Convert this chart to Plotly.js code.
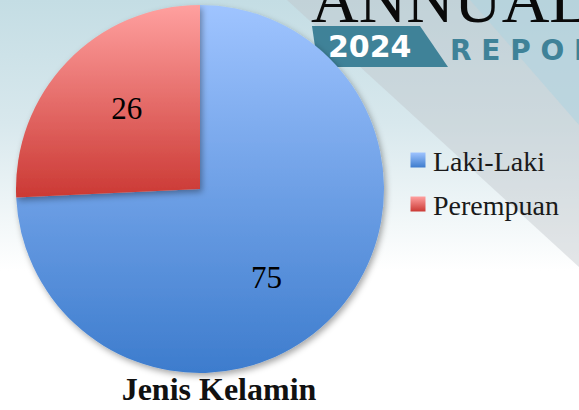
<!DOCTYPE html>
<html>
<head>
<meta charset="utf-8">
<script src="https://cdn.plot.ly/plotly-3.0.1.min.js"></script>
<style>
html,body{margin:0;padding:0;background:#fff;}
#chart{width:579px;height:410px;background:linear-gradient(180deg,#c4dde4 0%,#d8e8ed 30%,#f3f8f9 55%,#ffffff 66%,#ffffff 100%);}
</style>
</head>
<body>
<div id="chart"></div>
<script>
const categories = ["Laki-Laki", "Perempuan"];
const values = [75, 26];
const colors = ["#6b9be4", "#df6663"];
const chartTitle = "Jenis Kelamin";

const W = 579, H = 410;
const SERIF = "Liberation Serif, DejaVu Serif, serif";
const px = (x) => x / W, py = (y) => 1 - y / H;

const trace = {
  type: "pie",
  labels: categories,
  values: values,
  sort: false,
  direction: "clockwise",
  rotation: 0,
  textinfo: "value",
  textposition: "inside",
  insidetextorientation: "horizontal",
  textfont: {family: SERIF, size: 31, color: "#000"},
  marker: {colors: colors, line: {width: 0}},
  domain: {x: [px(16), px(384)], y: [py(373), py(5)]},
  hoverinfo: "none"
};

const layout = {
  width: W, height: H,
  margin: {l: 0, r: 0, t: 0, b: 0},
  paper_bgcolor: "rgba(0,0,0,0)",
  plot_bgcolor: "rgba(0,0,0,0)",
  showlegend: true,
  legend: {
    x: px(398), y: py(140), xanchor: "left", yanchor: "top",
    font: {family: SERIF, size: 28, color: "#1a1a1a"},
    itemwidth: 30,
    bgcolor: "rgba(0,0,0,0)"
  },
  title: {
    text: "<b>" + chartTitle + "</b>",
    x: px(219), xanchor: "center", xref: "paper",
    y: py(389), yanchor: "middle", yref: "paper",
    font: {family: SERIF, size: 32, color: "#111"}
  },
  shapes: [
    {type: "path", xref: "paper", yref: "paper", layer: "below",
     path: `M ${px(287)} 1 L 1 1 L 1 ${py(267)} Z`,
     fillcolor: "rgba(190,196,200,0.42)", line: {width: 0}},
    {type: "path", xref: "paper", yref: "paper", layer: "below",
     path: `M ${px(470)} 1 L 1 1 L 1 ${py(125)} Z`,
     fillcolor: "rgba(175,212,224,0.55)", line: {width: 0}},
    {type: "path", xref: "paper", yref: "paper", layer: "below",
     path: `M ${px(312)} ${py(26)} L ${px(420)} ${py(26)} L ${px(448)} ${py(67)} L ${px(318)} ${py(67)} Z`,
     fillcolor: "#3f8298", line: {width: 0}}
  ],
  annotations: [
    {text: "ANNUAL", xref: "paper", yref: "paper", x: px(309), y: py(38), xanchor: "left", yanchor: "bottom",
     showarrow: false, font: {family: SERIF, size: 66, color: "#0a0a0a"}},
    {text: "<b>2024</b>", xref: "paper", yref: "paper", x: px(370), y: py(47), xanchor: "center", yanchor: "middle",
     showarrow: false, font: {family: "DejaVu Sans, sans-serif", size: 30, color: "#ffffff"}},
    {text: "<b>R E P O R</b>", xref: "paper", yref: "paper", x: px(448), y: py(50), xanchor: "left", yanchor: "middle",
     showarrow: false, font: {family: "DejaVu Sans, sans-serif", size: 28, color: "#3f8298"}}
  ]
};

Plotly.newPlot("chart", [trace], layout, {displayModeBar: false, staticPlot: true}).then(gd => {
  const svg = gd.querySelector("svg.main-svg");
  const ns = "http://www.w3.org/2000/svg";
  let defs = svg.querySelector("defs");
  if (!defs) { defs = document.createElementNS(ns, "defs"); svg.insertBefore(defs, svg.firstChild); }
  const grads = [["gBlue", "#9fc4ff", "#3d7ccd"], ["gRed", "#ffa09f", "#cb3934"]];
  grads.forEach(([id, c1, c2]) => {
    const g = document.createElementNS(ns, "linearGradient");
    g.setAttribute("id", id); g.setAttribute("x1", "0"); g.setAttribute("y1", "0"); g.setAttribute("x2", "0"); g.setAttribute("y2", "1");
    const s1 = document.createElementNS(ns, "stop"); s1.setAttribute("offset", "0"); s1.setAttribute("stop-color", c1);
    const s2 = document.createElementNS(ns, "stop"); s2.setAttribute("offset", "1"); s2.setAttribute("stop-color", c2);
    g.appendChild(s1); g.appendChild(s2); defs.appendChild(g);
  });
  const f = document.createElementNS(ns, "filter");
  f.setAttribute("id", "pieShadow"); f.setAttribute("x", "-10%"); f.setAttribute("y", "-10%");
  f.setAttribute("width", "120%"); f.setAttribute("height", "120%");
  const ds = document.createElementNS(ns, "feDropShadow");
  ds.setAttribute("dx", "2"); ds.setAttribute("dy", "3"); ds.setAttribute("stdDeviation", "3");
  ds.setAttribute("flood-color", "#000"); ds.setAttribute("flood-opacity", "0.35");
  f.appendChild(ds); defs.appendChild(f);

  const pieTrace = gd.querySelector("g.pielayer g.trace");
  const slices = gd.querySelectorAll("g.pielayer g.slice");
  const fills = ["url(#gBlue)", "url(#gRed)"];
  slices.forEach((s, i) => {
    const p = s.querySelector("path.surface");
    if (p) { p.style.fill = fills[i]; p.setAttribute("filter", "url(#pieShadow)"); }
  });
  // label nudges relative to Plotly's placement
  const nudges = [[0, 25], [4, -7]];
  slices.forEach((s, i) => {
    const t = s.querySelector("g.slicetext");
    if (t) {
      const tr = t.getAttribute("transform") || "";
      t.setAttribute("transform", `translate(${nudges[i][0]},${nudges[i][1]}) ` + tr);
    }
  });

  // legend adjustments
  const items = gd.querySelectorAll("g.legend g.traces");
  const targetY = [160, 204];
  const svgRect = svg.getBoundingClientRect();
  items.forEach((it, i) => {
    const sym = it.querySelector("path.legendpie");
    if (sym) {
      sym.style.fill = fills[i];
      const tr = sym.getAttribute("transform") || "";
      sym.setAttribute("transform", tr + " scale(1.25)");
    }
    const txt = it.querySelector("text.legendtext");
    if (txt) txt.setAttribute("x", "35");
    if (sym) {
      const r = sym.getBoundingClientRect();
      const cy = r.top + r.height / 2 - svgRect.top;
      const dy = targetY[i] - cy;
      const tr0 = it.getAttribute("transform") || "";
      it.setAttribute("transform", `translate(0,${dy}) ` + tr0);
    }
  });
});
</script>
</body>
</html>
